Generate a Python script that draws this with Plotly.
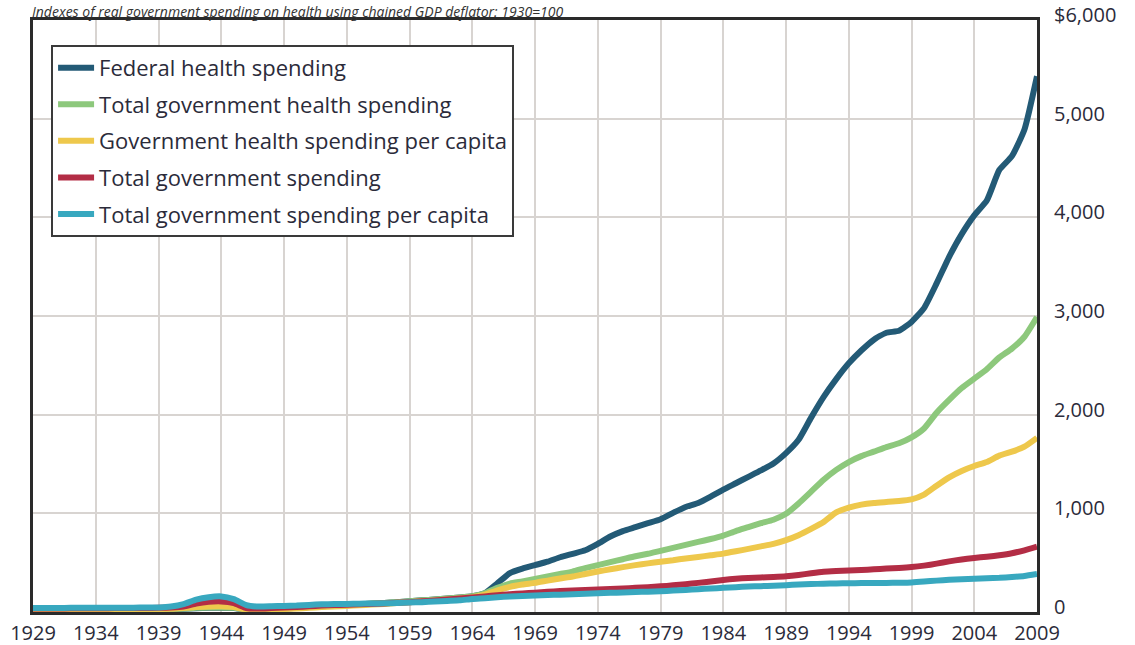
import plotly.graph_objects as go

years = list(range(1929, 2010))

federal_health = [
    25, 25, 25, 25, 25, 26, 26, 26, 27, 27, 27,            # 1929-1939
    28, 32, 38, 42, 44, 40, 25, 25, 30, 35,                # 1940-1949
    42, 50, 58, 65, 72, 78, 85, 92, 100, 108,              # 1950-1959
    118, 127, 137, 147, 160, 190, 290, 395, 440, 475,      # 1960-1969
    510, 555, 590, 625, 690, 765, 820, 860, 900, 940,      # 1970-1979
    1005, 1065, 1105, 1170, 1240, 1305, 1370, 1435, 1505, 1610,  # 1980-1989
    1745, 1970, 2180, 2360, 2520, 2650, 2760, 2830, 2850, 2940,  # 1990-1999
    3080, 3330, 3600, 3830, 4020, 4170, 4480, 4620, 4890, 5430,  # 2000-2009
]

total_gov_health = [
    30, 30, 30, 30, 30, 30, 30, 31, 31, 31, 31,
    32, 36, 42, 45, 46, 42, 28, 28, 32, 38,
    45, 52, 60, 66, 72, 78, 85, 92, 100, 108,
    118, 127, 137, 147, 160, 190, 245, 288, 310, 335,
    360, 385, 410, 445, 475, 505, 535, 565, 590, 620,
    650, 680, 710, 740, 775, 820, 860, 900, 935, 995,
    1100, 1220, 1340, 1440, 1520, 1580, 1625, 1672, 1710, 1770,
    1860, 2020, 2150, 2270, 2365, 2460, 2580, 2670, 2790, 2990,
]

gov_health_per_capita = [
    30, 30, 30, 30, 30, 30, 30, 30, 30, 30, 30,
    32, 40, 50, 57, 58, 50, 25, 22, 25, 30,
    35, 42, 50, 55, 62, 68, 75, 82, 90, 98,
    108, 117, 127, 137, 150, 175, 220, 255, 278, 295,
    318, 340, 360, 385, 410, 433, 455, 475, 493, 510,
    525, 543, 558, 575, 592, 615, 640, 665, 690, 728,
    778, 842, 912, 1010, 1058, 1088, 1105, 1115, 1125, 1142,
    1190, 1280, 1365, 1430, 1480, 1520, 1585, 1625, 1675, 1765,
]

total_gov_spending = [
    35, 35, 36, 37, 37, 38, 39, 40, 40, 41, 42,
    45, 55, 85, 103, 107, 90, 40, 35, 40, 45,
    50, 58, 65, 70, 74, 78, 82, 87, 93, 100,
    108, 117, 126, 136, 148, 158, 170, 180, 188, 196,
    205, 212, 218, 223, 228, 233, 238, 245, 252, 260,
    270, 282, 295, 310, 325, 337, 345, 350, 355, 362,
    375, 393, 408, 415, 420, 425, 433, 440, 446, 455,
    470, 490, 513, 533, 548, 560, 575, 595, 625, 662,
]

total_gov_spending_per_capita = [
    40, 40, 41, 42, 42, 43, 43, 44, 44, 45, 46,
    55, 80, 125, 150, 158, 130, 70, 55, 58, 62,
    65, 72, 78, 80, 82, 84, 86, 88, 92, 96,
    100, 106, 112, 118, 132, 140, 150, 157, 162, 167,
    172, 176, 180, 184, 190, 194, 198, 202, 206, 210,
    217, 224, 231, 238, 245, 252, 258, 262, 266, 272,
    278, 283, 287, 290, 292, 293, 294, 295, 297, 300,
    308, 318, 326, 333, 338, 342, 346, 354, 365, 385,
]

series_names = [
    "Federal health spending",
    "Total government health spending",
    "Government health spending per capita",
    "Total government spending",
    "Total government spending per capita",
]
series_values = [
    federal_health,
    total_gov_health,
    gov_health_per_capita,
    total_gov_spending,
    total_gov_spending_per_capita,
]
series_colors = ["#235a76", "#8dc87c", "#eec84c", "#b32d45", "#38a8bf"]

x_tick_vals = list(range(1929, 2010, 5))
y_tick_vals = [0, 1000, 2000, 3000, 4000, 5000, 6000]
y_tick_text = ["0", "1,000", "2,000", "3,000", "4,000", "5,000", "$6,000"]

title_text = "Indexes of real government spending on health using chained GDP deflator: 1930=100"

FONT = "Open Sans"
TEXT_COLOR = "#2b2b3a"

fig = go.Figure()
for i, (name, vals, col) in enumerate(zip(series_names, series_values, series_colors)):
    fig.add_trace(go.Scatter(
        x=years, y=vals, name=name, mode="lines",
        line=dict(color=col, width=6, shape="spline", smoothing=0.5),
        legendgroup=f"g{i}",
    ))

fig.update_layout(
    width=1135, height=645,
    margin=dict(l=33, r=98, t=20, b=33, autoexpand=False),
    paper_bgcolor="white", plot_bgcolor="white",
    font=dict(family=FONT, color=TEXT_COLOR, size=20),
    showlegend=True,
    legend=dict(
        x=0.018, y=0.958, xanchor="left", yanchor="top",
        bgcolor="white", bordercolor="#3a3a3a", borderwidth=2,
        font=dict(family=FONT, size=22, color=TEXT_COLOR),
        tracegroupgap=5, itemwidth=36,
    ),
    xaxis=dict(
        range=[1929, 2009], tickvals=x_tick_vals,
        showgrid=True, gridcolor="#d8d4d1", gridwidth=2,
        showline=True, linecolor="#2a2a2a", linewidth=3, mirror=True,
        ticks="", ticklabelstandoff=1, automargin=False,
        tickfont=dict(family=FONT, size=20, color=TEXT_COLOR),
        zeroline=False,
    ),
    yaxis=dict(
        range=[0, 6000], tickvals=y_tick_vals, ticktext=y_tick_text,
        side="right",
        showgrid=True, gridcolor="#d8d4d1", gridwidth=2,
        showline=True, linecolor="#2a2a2a", linewidth=3, mirror=True,
        ticks="", ticklabelstandoff=10, ticklabelshift=-5, automargin=False,
        tickfont=dict(family=FONT, size=20, color=TEXT_COLOR),
        zeroline=False,
    ),
    annotations=[dict(
        text=title_text, xref="paper", yref="paper",
        x=-0.003, y=1 + 20 / 592, xanchor="left", yanchor="top",
        showarrow=False,
        font=dict(family=FONT, size=14, color="#333333", style="italic"),
    )],
)

fig.write_html(
    "out.html",
    config={"displayModeBar": False},
    post_script="document.body.style.margin='0';document.body.style.padding='0';",
)
